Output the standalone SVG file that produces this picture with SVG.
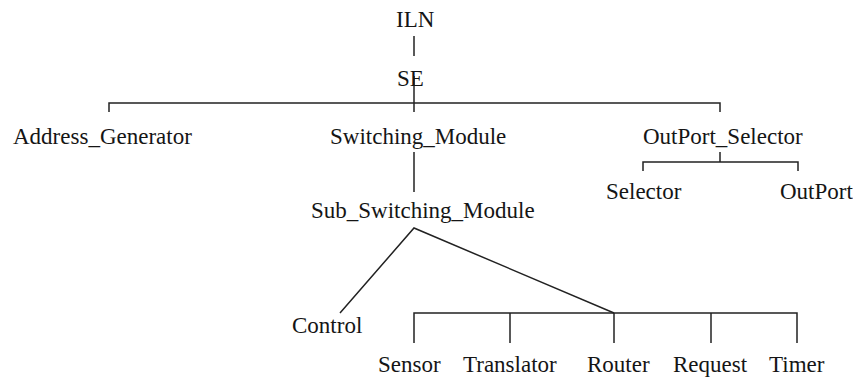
<svg xmlns="http://www.w3.org/2000/svg" width="853" height="378" viewBox="0 0 853 378">
  <style>
    .lbl { font-family: "Liberation Serif", "Times New Roman", serif; font-size: 23px; fill: #151515; }
    .edge { stroke: #222; stroke-width: 1.5; fill: none; }
  </style>
  <rect width="853" height="378" fill="#ffffff"/>

  <g id="connectors">
    <!-- ILN to SE -->
    <line class="edge" x1="414" y1="36" x2="414" y2="56"/>
    <!-- SE fan-out -->
    <line class="edge" x1="414" y1="76" x2="414" y2="112"/>
    <polyline class="edge" points="109,112 109,103 720,103 720,112"/>
    <!-- Switching_Module to Sub_Switching_Module -->
    <line class="edge" x1="414" y1="152" x2="414" y2="192"/>
    <!-- OutPort_Selector fan-out -->
    <line class="edge" x1="720" y1="152" x2="720" y2="162"/>
    <polyline class="edge" points="643,171 643,162 798,162 798,171"/>
    <!-- Sub_Switching_Module branches -->
    <polyline class="edge" points="340,313 414,228 614,313"/>
    <!-- leaf bar -->
    <polyline class="edge" points="414,343 414,313 797,313 797,343"/>
    <line class="edge" x1="510" y1="313" x2="510" y2="343"/>
    <line class="edge" x1="614" y1="313" x2="614" y2="343"/>
    <line class="edge" x1="711" y1="313" x2="711" y2="343"/>
  </g>

  <g id="node-iln"><text class="lbl" x="396" y="27">ILN</text></g>
  <g id="node-se"><text class="lbl" x="397" y="86">SE</text></g>
  <g id="node-address-generator"><text class="lbl" x="13" y="144">Address_Generator</text></g>
  <g id="node-switching-module"><text class="lbl" x="330" y="144">Switching_Module</text></g>
  <g id="node-outport-selector"><text class="lbl" x="643" y="144">OutPort_Selector</text></g>
  <g id="node-selector"><text class="lbl" x="606" y="199">Selector</text></g>
  <g id="node-outport"><text class="lbl" x="780" y="199">OutPort</text></g>
  <g id="node-sub-switching-module"><text class="lbl" x="311" y="218">Sub_Switching_Module</text></g>
  <g id="node-control"><text class="lbl" x="292" y="333">Control</text></g>
  <g id="node-sensor"><text class="lbl" x="378" y="372">Sensor</text></g>
  <g id="node-translator"><text class="lbl" x="463" y="372">Translator</text></g>
  <g id="node-router"><text class="lbl" x="587" y="372">Router</text></g>
  <g id="node-request"><text class="lbl" x="673" y="372">Request</text></g>
  <g id="node-timer"><text class="lbl" x="769" y="372">Timer</text></g>
</svg>
